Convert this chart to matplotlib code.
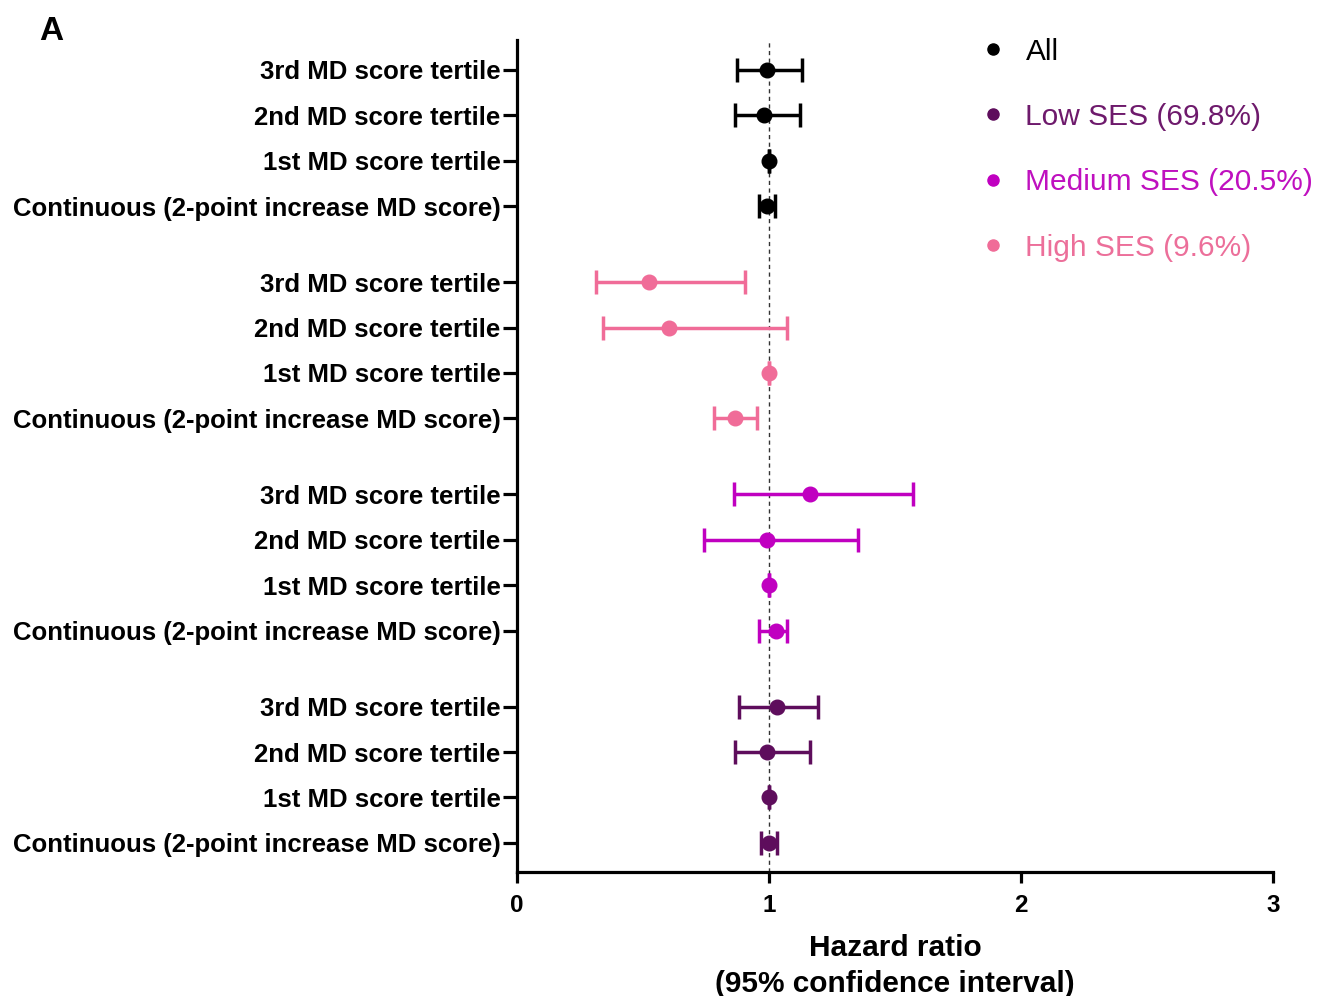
import matplotlib
matplotlib.use("Agg")
import matplotlib.pyplot as plt
from matplotlib.lines import Line2D
import numpy as np

plt.rcParams['font.family'] = ['Liberation Sans', 'DejaVu Sans']

# ---- data (top to bottom) ----
row_labels = ["3rd MD score tertile", "2nd MD score tertile",
              "1st MD score tertile", "Continuous (2-point increase MD score)"]
groups = ["All", "High SES (9.6%)", "Medium SES (20.5%)", "Low SES (69.8%)"]
group_colors = ["#000000", "#f06c98", "#c000c0", "#5e0d5c"]
legend_text_colors = {"All": "#000000", "High SES (9.6%)": "#ec6f9a",
                      "Medium SES (20.5%)": "#bf10bf", "Low SES (69.8%)": "#6e1a6c"}

hr_all = [0.993, 0.980, 1.00, 0.991]
lo_all = [0.872, 0.864, 1.00, 0.960]
hi_all = [1.132, 1.122, 1.00, 1.024]

hr_high = [0.524, 0.604, 1.00, 0.864]
lo_high = [0.313, 0.343, 1.00, 0.782]
hi_high = [0.904, 1.073, 1.00, 0.952]

hr_med = [1.163, 0.991, 1.00, 1.028]
lo_med = [0.862, 0.741, 1.00, 0.960]
hi_med = [1.573, 1.353, 1.00, 1.073]

hr_low = [1.032, 0.991, 1.00, 1.000]
lo_low = [0.881, 0.864, 1.00, 0.969]
hi_low = [1.194, 1.163, 1.00, 1.031]

legend_order = ["All", "Low SES (69.8%)", "Medium SES (20.5%)", "High SES (9.6%)"]

x_ticks = [0, 1, 2, 3]

# ---- figure ----
fig = plt.figure(figsize=(13.19, 9.96), dpi=100)
ax = fig.add_axes([0.392, 0.1245, 0.573, 0.8355])

gap = 1.67
series = [(hr_all, lo_all, hi_all), (hr_high, lo_high, hi_high),
          (hr_med, lo_med, hi_med), (hr_low, lo_low, hi_low)]

yticks = []
ylabels = []
for g, (hr, lo, hi) in enumerate(series):
    hr = np.array(hr); lo = np.array(lo); hi = np.array(hi)
    ys = g * (3 + gap) + np.arange(4)
    xerr = np.vstack([hr - lo, hi - hr])
    ax.errorbar(hr, ys, xerr=xerr, fmt='o', color=group_colors[g],
                ms=10.5, elinewidth=2.5, capsize=8.5, capthick=2.5, zorder=3)
    yticks.extend(ys)
    ylabels.extend(row_labels)

ax.axvline(1, color='#333333', lw=1.0, ls=(0, (3, 2.5)), zorder=1)

ax.set_yticks(yticks)
ax.set_yticklabels(ylabels, fontsize=18.5, fontweight='bold')
ax.set_ylim(yticks[-1] + 0.64, yticks[0] - 0.66)

ax.set_xlim(0, 3)
ax.set_xticks(x_ticks)
ax.set_xticklabels([str(t) for t in x_ticks], fontsize=17.5, fontweight='bold')
ax.set_xlabel("Hazard ratio\n(95% confidence interval)", fontsize=21.5,
              fontweight='bold', labelpad=12, linespacing=1.35)

for s in ['top', 'right']:
    ax.spines[s].set_visible(False)
for s in ['left', 'bottom']:
    ax.spines[s].set_linewidth(2.3)
ax.tick_params(axis='y', length=10, width=2.3, pad=2)
ax.tick_params(axis='x', length=8, width=2.3, pad=8)

# legend
color_map = dict(zip(groups, group_colors))
handles = [Line2D([], [], ls='none', marker='o', ms=8, color=color_map[name])
           for name in legend_order]
leg = ax.legend(handles, legend_order, loc='upper left',
                bbox_to_anchor=(0.57, 1.035), frameon=False, fontsize=21.5,
                labelspacing=1.25, handletextpad=0.5, handlelength=1.2)
for txt in leg.get_texts():
    txt.set_color(legend_text_colors[txt.get_text()])

fig.text(0.03, 0.968, "A", fontsize=24, fontweight='bold', va='center')

fig.savefig("out.png", dpi=100)
